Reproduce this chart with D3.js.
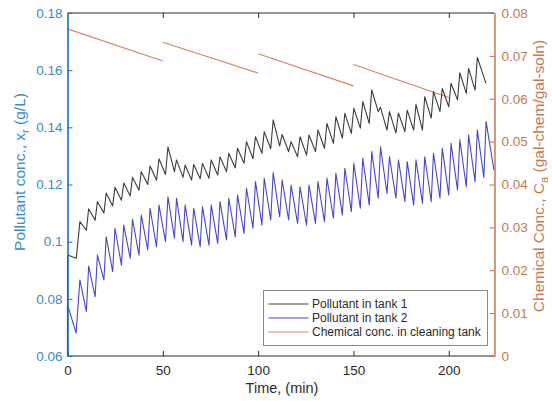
<!DOCTYPE html>
<html>
<head>
<meta charset="utf-8">
<script src="https://cdn.jsdelivr.net/npm/d3@7"></script>
<style>
  html, body { margin: 0; padding: 0; background: #fff; }
  svg { display: block; font-family: "Liberation Sans", Arial, Helvetica, sans-serif; }
</style>
</head>
<body>
<svg id="chart" width="552" height="401"></svg>
<script>
// ---- data -----------------------------------------------------------------
// Times (min) of the local maxima of the tank concentrations
const peakTimes = [6.5, 11.1, 15.7, 20.3, 24.9, 29.5, 34.1, 38.7, 43.3, 48.0,
  52.7, 57.2, 61.7, 66.2, 70.8, 75.4, 80.0, 84.6, 89.2, 93.9,
  98.6, 103.2, 107.9, 112.6, 117.3, 122.0, 126.7, 131.4, 136.1, 140.8,
  145.5, 150.2, 154.9, 159.6, 164.2, 168.9, 173.6, 178.2, 182.8, 187.4,
  192.0, 196.6, 201.2, 205.8, 210.4, 215.0, 219.6];
// Times (min) of the local minima that follow each maximum
const troughTimes = [9.9, 14.5, 19.1, 23.7, 28.3, 32.9, 37.5, 42.1, 46.7, 51.4,
  56.1, 60.6, 65.1, 69.6, 74.2, 78.8, 83.4, 88.0, 92.6, 97.3,
  102.0, 106.6, 111.3, 116.0, 120.7, 125.4, 130.1, 134.8, 139.5, 144.2,
  148.9, 153.6, 158.3, 163.0, 167.6, 172.3, 177.0, 181.6, 186.2, 190.8,
  195.4, 200.0, 204.6, 209.2, 213.8, 218.4];

// Pollutant in tank 1 (g/L)
const tank1Start = [[0, 0.06], [0, 0.0953], [4.6, 0.0942]];
const tank1Peaks = [0.107, 0.1115, 0.114, 0.117, 0.119, 0.1205, 0.1225, 0.1245, 0.1265, 0.129,
  0.1332, 0.1286, 0.1268, 0.127, 0.1274, 0.1286, 0.1297, 0.1309, 0.1327, 0.135,
  0.1367, 0.1385, 0.1426, 0.1375, 0.135, 0.1367, 0.1373, 0.1391, 0.1414, 0.1437,
  0.1449, 0.1467, 0.149, 0.1531, 0.147, 0.1455, 0.145, 0.146, 0.148, 0.1507,
  0.1525, 0.1536, 0.1554, 0.1591, 0.1606, 0.1645];
const tank1Troughs = [0.104, 0.1075, 0.110, 0.1125, 0.1145, 0.116, 0.118, 0.120, 0.1215, 0.1235,
  0.1245, 0.1225, 0.1216, 0.122, 0.1222, 0.1233, 0.1245, 0.1258, 0.1274, 0.129,
  0.1309, 0.1325, 0.1335, 0.1315, 0.1297, 0.1303, 0.1315, 0.1327, 0.1344, 0.1362,
  0.1379, 0.1397, 0.1414, 0.1455, 0.139, 0.138, 0.1385, 0.139, 0.139, 0.1432,
  0.1455, 0.1472, 0.1496, 0.1519, 0.153];
const tank1End = [219.5, 0.1554];

// Pollutant in tank 2 (g/L)
const tank2Start = [[0, 0.06], [0, 0.078], [4.5, 0.068]];
const tank2Peaks = [0.0866, 0.0915, 0.0953, 0.1017, 0.1047, 0.1058, 0.1078, 0.1093, 0.1117, 0.1128,
  0.1157, 0.1152, 0.1128, 0.1117, 0.1122, 0.1128, 0.114, 0.1152, 0.1163, 0.1187,
  0.121, 0.1222, 0.1242, 0.1216, 0.1198, 0.1192, 0.1198, 0.121, 0.1222, 0.1239,
  0.1257, 0.1274, 0.1292, 0.1315, 0.1332, 0.1297, 0.1286, 0.128, 0.1286, 0.1297,
  0.1309, 0.1327, 0.1344, 0.1356, 0.1373, 0.1391, 0.142];
const tank2Troughs = [0.0755, 0.0807, 0.0866, 0.0895, 0.0918, 0.0942, 0.0953, 0.0971, 0.0982, 0.100,
  0.1012, 0.100, 0.0988, 0.0982, 0.0988, 0.0994, 0.1006, 0.1017, 0.1029, 0.1047,
  0.1058, 0.1076, 0.1087, 0.1076, 0.1064, 0.1058, 0.1064, 0.107, 0.1082, 0.1093,
  0.1105, 0.1117, 0.1128, 0.1152, 0.1169, 0.1152, 0.114, 0.1128, 0.1134, 0.114,
  0.1152, 0.1163, 0.1181, 0.1192, 0.121, 0.1225];
const tank2End = [223.7, 0.125];

// Chemical concentration in the cleaning tank (gal-chem/gal-soln), one batch per 50 min
const batchStart = [0, 50, 100, 150];
const batchEnd = [50, 100, 150, 200];
const chemStart = [0.0763, 0.0732, 0.0705, 0.068];
const chemEnd = [0.0688, 0.066, 0.063, 0.0603];

// Axis ticks
const timeTicks = [0, 50, 100, 150, 200];
const pollutantTicks = [0.06, 0.08, 0.1, 0.12, 0.14, 0.16, 0.18];
const chemTicks = [0, 0.01, 0.02, 0.03, 0.04, 0.05, 0.06, 0.07, 0.08];

const seriesNames = ["Pollutant in tank 1", "Pollutant in tank 2", "Chemical conc. in cleaning tank"];

// ---- layout -----------------------------------------------------------------
const plot = { left: 67.5, right: 494.5, top: 13, bottom: 356 };
const colors = {
  tank1: "#3c3c3c",
  tank2: "#4848c6",
  chem: "#d9845e",
  leftAxis: "#1c70b6",
  leftText: "#3b8cc6",
  rightAxis: "#c96c40",
  rightText: "#c77a52",
  frame: "#2b2b2b",
  text: "#2b2b2b"
};

const svg = d3.select("#chart");
svg.append("rect").attr("width", 552).attr("height", 401).attr("fill", "#fff");

const x = d3.scaleLinear().domain([0, 224]).range([plot.left, plot.right]);
const yL = d3.scaleLinear().domain([0.06, 0.18]).range([plot.bottom, plot.top]);
const yR = d3.scaleLinear().domain([0, 0.08]).range([plot.bottom, plot.top]);

// interleave maxima and minima into one polyline
function buildSeries(start, peaks, troughs, end) {
  const pts = start.slice();
  peaks.forEach((v, i) => {
    pts.push([peakTimes[i], v]);
    if (i < troughs.length) pts.push([troughTimes[i], troughs[i]]);
  });
  pts.push(end);
  return pts;
}
const tank1 = buildSeries(tank1Start, tank1Peaks, tank1Troughs, tank1End);
const tank2 = buildSeries(tank2Start, tank2Peaks, tank2Troughs, tank2End);

const lineL = d3.line().x(d => x(d[0])).y(d => yL(d[1]));
const lineR = d3.line().x(d => x(d[0])).y(d => yR(d[1]));

// ---- series ---------------------------------------------------------------
const g = svg.append("g");
batchStart.forEach((t0, i) => {
  g.append("path")
    .attr("d", lineR([[t0, chemStart[i]], [batchEnd[i], chemEnd[i]]]))
    .attr("fill", "none").attr("stroke", colors.chem).attr("stroke-width", 1.1);
});
g.append("path").attr("d", lineL(tank2))
  .attr("fill", "none").attr("stroke", colors.tank2).attr("stroke-width", 1.1)
  .attr("stroke-linejoin", "round");
g.append("path").attr("d", lineL(tank1))
  .attr("fill", "none").attr("stroke", colors.tank1).attr("stroke-width", 1.1)
  .attr("stroke-linejoin", "round");

// ---- axes -------------------------------------------------------------------
const fmt = d => (d === 0 ? "0" : String(+d.toFixed(2)));

const xAxis = svg.append("g").attr("transform", `translate(0,${plot.bottom})`)
  .call(d3.axisBottom(x).tickValues(timeTicks).tickSize(-5).tickSizeOuter(0).tickPadding(9));
xAxis.select(".domain").attr("stroke", colors.frame).attr("stroke-width", 1.2)
  .attr("d", `M${plot.left},0H${plot.right}`);
xAxis.selectAll(".tick line").attr("stroke", colors.frame);
xAxis.selectAll(".tick text").attr("fill", colors.text).attr("font-size", 13.5);

const xTop = svg.append("g").attr("transform", `translate(0,${plot.top})`)
  .call(d3.axisTop(x).tickValues(timeTicks.slice(1)).tickSize(-5).tickSizeOuter(0).tickFormat(""));
xTop.select(".domain").attr("stroke", colors.frame).attr("stroke-width", 1.2)
  .attr("d", `M${plot.left},0H${plot.right}`);
xTop.selectAll(".tick line").attr("stroke", colors.frame);

const leftAxis = svg.append("g").attr("transform", `translate(${plot.left},0)`)
  .call(d3.axisLeft(yL).tickValues(pollutantTicks).tickSize(-5).tickSizeOuter(0)
    .tickPadding(5).tickFormat(fmt));
leftAxis.select(".domain").attr("stroke", colors.leftAxis).attr("stroke-width", 1.6);
leftAxis.selectAll(".tick line").attr("stroke", colors.leftAxis);
leftAxis.selectAll(".tick text").attr("fill", colors.leftText).attr("font-size", 13.5);

const rightAxis = svg.append("g").attr("transform", `translate(${plot.right},0)`)
  .call(d3.axisRight(yR).tickValues(chemTicks).tickSize(-5).tickSizeOuter(0)
    .tickPadding(7).tickFormat(fmt));
rightAxis.select(".domain").attr("stroke", colors.rightAxis).attr("stroke-width", 1.4);
rightAxis.selectAll(".tick line").attr("stroke", colors.rightAxis);
rightAxis.selectAll(".tick text").attr("fill", colors.rightText).attr("font-size", 13.5);

// ---- axis titles ------------------------------------------------------------
svg.append("text")
  .attr("x", (plot.left + plot.right) / 2 + 1).attr("y", 393)
  .attr("text-anchor", "middle").attr("font-size", 14.5).attr("fill", colors.text)
  .text("Time, (min)");

const leftTitle = svg.append("text")
  .attr("transform", "translate(25,172) rotate(-90)")
  .attr("text-anchor", "middle").attr("font-size", 15.5).attr("fill", colors.leftText);
leftTitle.append("tspan").text("Pollutant conc., x");
leftTitle.append("tspan").attr("dy", 4).attr("font-size", 11).text("r");
leftTitle.append("tspan").attr("dy", -4).text(" (g/L)");

const rightTitle = svg.append("text")
  .attr("transform", "translate(544,176) rotate(-90)")
  .attr("text-anchor", "middle").attr("font-size", 15.5).attr("fill", colors.rightText);
rightTitle.append("tspan").text("Chemical Conc., C");
rightTitle.append("tspan").attr("dy", 3.5).attr("font-size", 11).text("a");
rightTitle.append("tspan").attr("dy", -3.5).text(" (gal-chem/gal-soln)");

// ---- legend -----------------------------------------------------------------
const legend = svg.append("g").attr("transform", "translate(263.5,290.5)");
legend.append("rect").attr("width", 224).attr("height", 55)
  .attr("fill", "#fff").attr("stroke", "#8a8a8a").attr("stroke-width", 1);
const legendColors = [colors.tank1, colors.tank2, colors.chem];
seriesNames.forEach((name, i) => {
  const yy = 13.5 + i * 14;
  legend.append("line").attr("x1", 5).attr("x2", 45).attr("y1", yy).attr("y2", yy)
    .attr("stroke", legendColors[i]).attr("stroke-width", 1.1);
  legend.append("text").attr("x", 48.5).attr("y", yy + 4.3)
    .attr("font-size", 12).attr("fill", colors.text).text(name);
});
</script>
</body>
</html>
